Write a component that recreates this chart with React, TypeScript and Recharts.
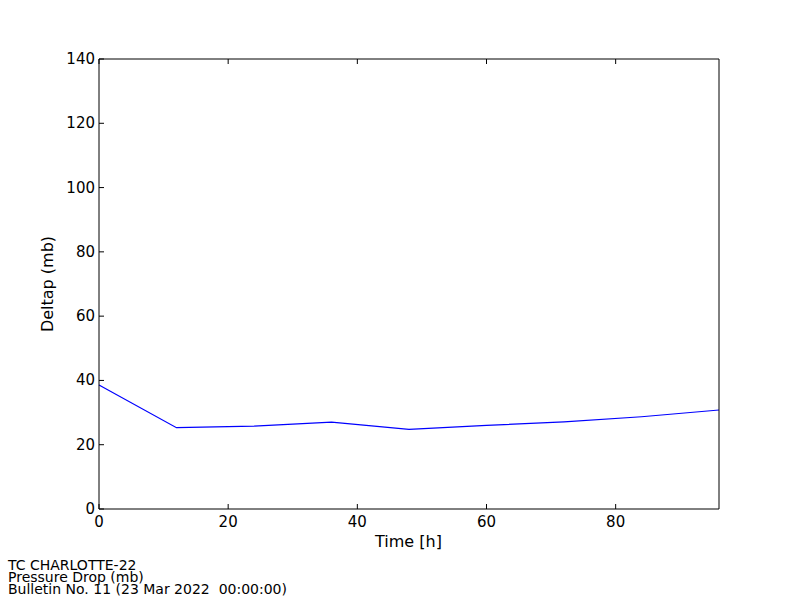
import React from "react";
import { LineChart, Line, XAxis, YAxis } from "recharts";

const hours = [0, 12, 24, 36, 48, 60, 72, 84, 96];
const deltap = [38.6, 25.3, 25.8, 27.0, 24.8, 26.0, 27.1, 28.7, 30.8];
const xTicks = [0, 20, 40, 60, 80];
const yTicks = [0, 20, 40, 60, 80, 100, 120, 140];
const footerLines = [
  "TC CHARLOTTE-22",
  "Pressure Drop (mb)",
  "Bulletin No. 11 (23 Mar 2022  00:00:00)",
];

const data = hours.map((h, i) => ({ h, v: deltap[i] }));

const FONT = "DejaVu Sans";
const TL = 5;

const BottomTick = (props: any) => {
  const { x, y, payload } = props;
  return (
    <g>
      <line x1={x} y1={y} x2={x} y2={y - TL} stroke="#000" strokeWidth={1} />
      <text x={x} y={y + 18} textAnchor="middle" fontSize={15} fontFamily={FONT} fill="#000">
        {payload.value}
      </text>
    </g>
  );
};
const TopTick = (props: any) => {
  const { x, y } = props;
  return <line x1={x} y1={y} x2={x} y2={y + TL} stroke="#000" strokeWidth={1} />;
};
const LeftTick = (props: any) => {
  const { x, y, payload } = props;
  return (
    <g>
      <line x1={x} y1={y} x2={x + TL} y2={y} stroke="#000" strokeWidth={1} />
      <text x={x - 4} y={y + 5} textAnchor="end" fontSize={15} fontFamily={FONT} fill="#000">
        {payload.value}
      </text>
    </g>
  );
};
const RightTick = (props: any) => {
  const { x, y } = props;
  return <line x1={x} y1={y} x2={x - TL} y2={y} stroke="#000" strokeWidth={1} />;
};

export default function App() {
  return (
    <div style={{ position: "absolute", left: 0, top: 0, width: 800, height: 600, background: "#fff" }}>
      <LineChart
        width={800}
        height={600}
        data={data}
        margin={{ top: 58, right: 80, bottom: 90, left: 98 }}
      >
        <XAxis
          xAxisId="b"
          dataKey="h"
          type="number"
          domain={[0, 96]}
          ticks={xTicks}
          orientation="bottom"
          height={1}
          tickSize={0}
          tickMargin={0}
          tickLine={false}
          axisLine={{ stroke: "#000", strokeWidth: 1 }}
          tick={<BottomTick />}
          interval={0}
        />
        <XAxis
          xAxisId="t"
          dataKey="h"
          type="number"
          domain={[0, 96]}
          ticks={xTicks}
          orientation="top"
          height={1}
          tickSize={0}
          tickMargin={0}
          tickLine={false}
          axisLine={{ stroke: "#000", strokeWidth: 1 }}
          tick={<TopTick />}
          interval={0}
        />
        <YAxis
          yAxisId="l"
          type="number"
          domain={[0, 140]}
          ticks={yTicks}
          orientation="left"
          width={1}
          tickSize={0}
          tickMargin={0}
          tickLine={false}
          axisLine={{ stroke: "#000", strokeWidth: 1 }}
          tick={<LeftTick />}
          interval={0}
        />
        <YAxis
          yAxisId="r"
          type="number"
          domain={[0, 140]}
          ticks={yTicks}
          orientation="right"
          width={1}
          tickSize={0}
          tickMargin={0}
          tickLine={false}
          axisLine={{ stroke: "#000", strokeWidth: 1 }}
          tick={<RightTick />}
          interval={0}
        />
        <Line
          xAxisId="b"
          yAxisId="l"
          dataKey="v"
          type="linear"
          stroke="#0000ff"
          strokeWidth={1.2}
          dot={false}
          isAnimationActive={false}
        />
      </LineChart>
      <div
        style={{
          position: "absolute",
          left: 375,
          top: 532,
          fontFamily: FONT,
          fontSize: 16,
          color: "#000",
          whiteSpace: "nowrap",
        }}
      >
        Time [h]
      </div>
      <div
        style={{
          position: "absolute",
          left: 47,
          top: 284,
          transform: "translate(-50%, -50%) rotate(-90deg)",
          fontFamily: FONT,
          fontSize: 16,
          color: "#000",
          whiteSpace: "nowrap",
        }}
      >
        Deltap (mb)
      </div>
      <div
        style={{
          position: "absolute",
          left: 8,
          top: 559,
          fontFamily: FONT,
          fontSize: 14,
          lineHeight: "12px",
          color: "#000",
          whiteSpace: "nowrap",
        }}
      >
        {footerLines.map((l, i) => (
          <div key={i} style={{ whiteSpace: "pre" }}>{l}</div>
        ))}
      </div>
    </div>
  );
}
